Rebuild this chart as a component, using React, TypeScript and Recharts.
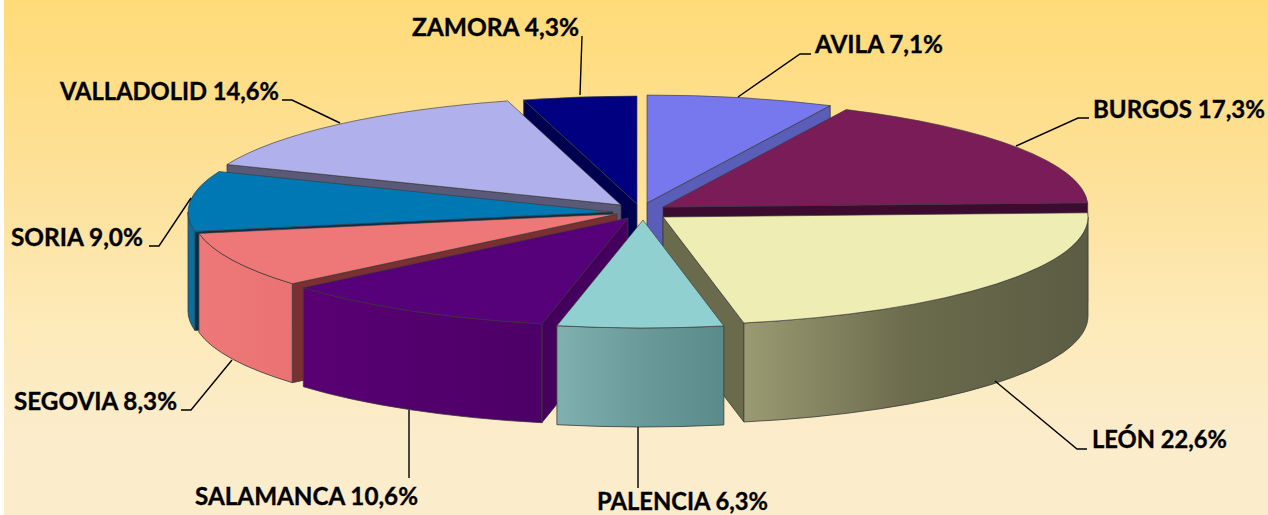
import React from "react";
import { PieChart, Pie } from "recharts";

const PROVINCES = ["AVILA", "BURGOS", "LEÓN", "PALENCIA", "SALAMANCA", "SEGOVIA", "SORIA", "VALLADOLID", "ZAMORA"];
const SHARES = [7.1, 17.3, 22.6, 6.3, 10.6, 8.3, 9.0, 14.6, 4.3];
const LABELS = [
  "AVILA 7,1%",
  "BURGOS 17,3%",
  "LEÓN 22,6%",
  "PALENCIA 6,3%",
  "SALAMANCA 10,6%",
  "SEGOVIA 8,3%",
  "SORIA 9,0%",
  "VALLADOLID 14,6%",
  "ZAMORA 4,3%",
];

// back to front, so near slices cover the cut faces of the far ones
const PAINT_ORDER = ["ZAMORA", "AVILA", "VALLADOLID", "BURGOS", "SORIA", "SEGOVIA", "LEÓN", "SALAMANCA", "PALENCIA"];

const TOP_COLORS = ["#7878ee", "#7a1c58", "#ededb4", "#90d0d0", "#56007a", "#ee7878", "#0078b4", "#b0b0ec", "#000080"];
const CUT_COLORS = ["#5a5eb8", "#3d0a30", "#6a6a4c", "#5a8a8a", "#44005c", "#7a3030", "#00304c", "#5a5a78", "#000050"];
const WALL_STOPS = [
  ["#5a5eb8", "#5a5eb8"],
  ["#3d0a30", "#3d0a30"],
  ["#9a9a72", "#6a6a4c", "#5c5c44"],
  ["#82b0b0", "#6a9a9a", "#5a8a8a"],
  ["#5a0074", "#4c0066"],
  ["#ee7878", "#ea7272"],
  ["#0a6ea0", "#0a6ea0"],
  ["#5a5a78", "#5a5a78"],
  ["#000050", "#000050"],
];

// how far each slice is pulled out of the pie
const EXPLODE = [
  [17, -7],
  [33, -3],
  [33, 7],
  [13, 10],
  [-2, 8],
  [-13, 4],
  [-17, 2],
  [-9, -5],
  [7, -6],
];

const LABEL_X = [815, 1093, 1092, 597, 195, 14, 11, 60, 412];
const LABEL_Y = [53, 118, 448, 510, 505, 410, 246, 100, 36];
const LABEL_WIDTH = [128, 172, 135, 171, 223, 163, 132, 219, 167];
const LEADERS = [
  "811,54 800,54 738,97",
  "1089,118 1078,118 1016,146",
  "1087,449 1077,449 995,381",
  "638,427 638,488",
  "409,410 409,478",
  "181,410 191,410 232,360",
  "149,246 159,246 191,198",
  "282,100 292,100 340,123",
  "582,36 580,95",
];

const SQUASH = 0.254;
const DEPTH = 99;
const EDGE = "#3a3a3a";

const sliceData = PROVINCES.map((name, i) => ({ name, value: SHARES[i], index: i }));

function makeSliceShape(name: string) {
  return function SliceShape(props: any) {
    const i = PROVINCES.indexOf(props.name ?? props.payload?.name);
    if (PROVINCES[i] !== name) return <g />;
    const [dx, dy] = EXPLODE[i];
    const ax = props.cx + dx;
    const ay = props.cy + dy;
    const rx = props.outerRadius;
    const ry = rx * SQUASH;
    // clockwise degrees from 12 o'clock
    const t1 = 90 - props.startAngle;
    const t2 = 90 - props.endAngle;
    const pt = (t: number) => {
      const r = (t * Math.PI) / 180;
      return [ax + rx * Math.sin(r), ay - ry * Math.cos(r)];
    };
    const [x1, y1] = pt(t1);
    const [x2, y2] = pt(t2);
    const large = t2 - t1 > 180 ? 1 : 0;
    const top = `M${ax},${ay} L${x1},${y1} A${rx},${ry} 0 ${large} 1 ${x2},${y2} Z`;
    const cut1 = `M${ax},${ay} L${x1},${y1} L${x1},${y1 + DEPTH} L${ax},${ay + DEPTH} Z`;
    const cut2 = `M${ax},${ay} L${x2},${y2} L${x2},${y2 + DEPTH} L${ax},${ay + DEPTH} Z`;
    // only the cut faces turned towards the viewer get drawn
    const showCut1 = t1 > 180 && t1 < 360;
    const showCut2 = t2 > 0 && t2 < 180;
    const wa = Math.max(t1, 90);
    const wb = Math.min(t2, 270);
    let wall = null;
    if (wb > wa) {
      const [wx1, wy1] = pt(wa);
      const [wx2, wy2] = pt(wb);
      wall = `M${wx1},${wy1} A${rx},${ry} 0 0 1 ${wx2},${wy2} L${wx2},${wy2 + DEPTH} A${rx},${ry} 0 0 0 ${wx1},${wy1 + DEPTH} Z`;
    }
    const stops = WALL_STOPS[i];
    return (
      <g>
        <defs>
          <linearGradient id={`wall-${i}`} x1="0" y1="0" x2="1" y2="0">
            {stops.map((c, k) => (
              <stop key={k} offset={k / (stops.length - 1)} stopColor={c} />
            ))}
          </linearGradient>
        </defs>
        {showCut1 && <path d={cut1} fill={CUT_COLORS[i]} stroke={EDGE} strokeWidth={0.8} />}
        {showCut2 && <path d={cut2} fill={CUT_COLORS[i]} stroke={EDGE} strokeWidth={0.8} />}
        {wall && <path d={wall} fill={`url(#wall-${i})`} stroke={EDGE} strokeWidth={0.8} />}
        <path d={top} fill={TOP_COLORS[i]} stroke={EDGE} strokeWidth={0.8} strokeOpacity={0.8} />
      </g>
    );
  };
}

function renderLabel(props: any) {
  const i = props.index;
  return (
    <g key={i}>
      <polyline points={LEADERS[i]} fill="none" stroke="#000" strokeWidth={1.4} />
      <text
        x={LABEL_X[i]}
        y={LABEL_Y[i]}
        fontFamily="Lato, 'Open Sans', sans-serif"
        fontWeight={700}
        fontSize={24}
        fill="#000"
        stroke="#000"
        strokeWidth={0.35}
        textLength={LABEL_WIDTH[i]}
        lengthAdjust="spacingAndGlyphs"
      >
        {LABELS[i]}
      </text>
    </g>
  );
}

export default function App() {
  return (
    <div style={{ position: "absolute", left: 0, top: 0, width: 1268, height: 515, overflow: "hidden", background: "#fff" }}>
      <div
        style={{
          position: "absolute",
          left: 4,
          top: 0,
          width: 1264,
          height: 515,
          background: "linear-gradient(180deg, #ffdb78 0%, #fde199 35%, #fdeab8 62%, #fbeccb 85%, #fbeccb 100%)",
        }}
      />
      <PieChart width={1268} height={515} margin={{ top: 0, right: 0, bottom: 0, left: 0 }} style={{ position: "absolute", left: 0, top: 0 }}>
        {PAINT_ORDER.map((name) => (
          <Pie
            key={name}
            data={sliceData}
            dataKey="value"
            nameKey="name"
            cx={630}
            cy={210}
            outerRadius={425}
            startAngle={90}
            endAngle={-270}
            stroke="none"
            shape={makeSliceShape(name)}
            isAnimationActive={false}
          />
        ))}
        <Pie
          data={sliceData}
          dataKey="value"
          nameKey="name"
          cx={630}
          cy={210}
          outerRadius={425}
          startAngle={90}
          endAngle={-270}
          shape={() => <g />}
          label={renderLabel}
          labelLine={false}
          isAnimationActive={false}
        />
      </PieChart>
    </div>
  );
}
